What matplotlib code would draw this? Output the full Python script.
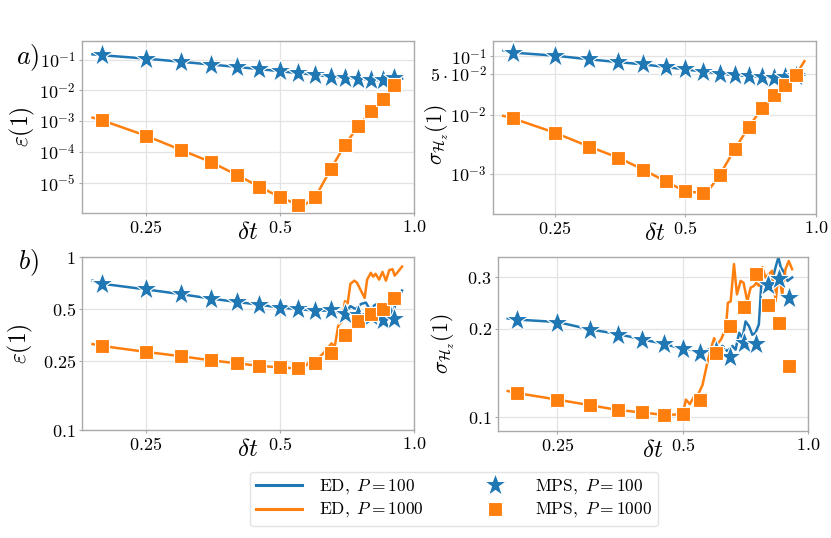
#!/usr/bin/env python3
"""
Error and energy-variance vs time step: ED curves against MPS points, two cases.
"""

import matplotlib
matplotlib.use("Agg")
import matplotlib.pyplot as plt
from matplotlib.lines import Line2D
from matplotlib.ticker import FixedLocator, FixedFormatter, NullLocator

# ---- data ----
dt_mps = [0.2, 0.25, 0.3, 0.35, 0.4, 0.45, 0.5, 0.55, 0.6, 0.65, 0.7, 0.75, 0.8, 0.85, 0.9]

# a) epsilon
mps_eps_a_100 = [0.138, 0.108, 0.084, 0.069, 0.058, 0.048, 0.042, 0.036, 0.032, 0.028, 0.026, 0.024, 0.022, 0.021, 0.025]
mps_eps_a_1000 = [1.05e-3, 3.4e-4, 1.16e-4, 4.7e-5, 1.8e-5, 7.4e-6, 3.4e-6, 1.9e-6, 3.3e-6, 2.7e-5,
                  1.7e-4, 6.9e-4, 2.1e-3, 5.1e-3, 1.46e-2]
dt_ed_a = [0.19, 0.2, 0.25, 0.3, 0.35, 0.4, 0.45, 0.5, 0.55, 0.565, 0.6, 0.65, 0.7, 0.75, 0.8, 0.85, 0.9, 0.94]
ed_eps_a_100 = [0.148, 0.138, 0.108, 0.085, 0.069, 0.058, 0.049, 0.042, 0.036, 0.035, 0.032, 0.028,
                0.026, 0.024, 0.022, 0.021, 0.022, 0.024]
ed_eps_a_1000 = [1.3e-3, 1.05e-3, 3.4e-4, 1.16e-4, 4.7e-5, 1.8e-5, 7.4e-6, 3.4e-6, 1.9e-6, 1.8e-6, 3.3e-6,
                 2.7e-5, 1.7e-4, 6.9e-4, 2.1e-3, 5.1e-3, 1.46e-2, 3.1e-2]

# a) sigma
mps_sig_a_100 = [0.114, 0.103, 0.089, 0.080, 0.073, 0.066, 0.060, 0.055, 0.051, 0.048, 0.046, 0.044, 0.043, 0.045, 0.046]
mps_sig_a_1000 = [8.8e-3, 5.0e-3, 2.9e-3, 1.88e-3, 1.17e-3, 7.4e-4, 5.0e-4, 4.7e-4, 9.6e-4, 2.65e-3,
                  6.3e-3, 0.013, 0.022, 0.033, 0.049]
ed_sig_a_100 = [0.127, 0.116, 0.103, 0.089, 0.080, 0.073, 0.066, 0.060, 0.055, 0.054, 0.051, 0.048,
                0.046, 0.045, 0.044, 0.045, 0.046, 0.049]
ed_sig_a_1000 = [9.7e-3, 8.8e-3, 5.0e-3, 2.9e-3, 1.88e-3, 1.17e-3, 7.4e-4, 5.0e-4, 4.7e-4, 5.2e-4, 9.6e-4,
                 2.65e-3, 6.3e-3, 0.013, 0.022, 0.033, 0.049, 0.083]

# b) epsilon
mps_eps_b_100 = [0.70, 0.65, 0.61, 0.575, 0.55, 0.53, 0.51, 0.50, 0.49, 0.495, 0.47, 0.46, 0.455, 0.43, 0.44]
mps_eps_b_1000 = [0.306, 0.283, 0.267, 0.253, 0.243, 0.235, 0.23, 0.227, 0.243, 0.277, 0.355, 0.424, 0.469, 0.501, 0.576]
dt_ed_eps_b_100 = [0.19, 0.2, 0.25, 0.3, 0.35, 0.4, 0.45, 0.5, 0.55, 0.6, 0.65, 0.7, 0.72, 0.74, 0.76, 0.78,
                   0.795, 0.81, 0.83, 0.85, 0.865, 0.88, 0.895, 0.91, 0.93, 0.94]
ed_eps_b_100 = [0.73, 0.70, 0.65, 0.61, 0.575, 0.55, 0.53, 0.51, 0.50, 0.49, 0.49, 0.47, 0.52, 0.50, 0.535,
                0.545, 0.50, 0.52, 0.54, 0.52, 0.50, 0.53, 0.46, 0.54, 0.60, 0.64]
dt_ed_eps_b_1000 = [0.19, 0.2, 0.25, 0.3, 0.35, 0.4, 0.45, 0.5, 0.55, 0.574, 0.589, 0.599, 0.615, 0.636,
                    0.653, 0.664, 0.676, 0.688, 0.70, 0.71, 0.72, 0.735, 0.745, 0.76, 0.775, 0.785, 0.80,
                    0.81, 0.82, 0.835, 0.85, 0.865, 0.88, 0.895, 0.905, 0.92, 0.94]
ed_eps_b_1000 = [0.314, 0.306, 0.283, 0.267, 0.253, 0.243, 0.235, 0.23, 0.227, 0.237, 0.259, 0.247, 0.265,
                 0.29, 0.317, 0.303, 0.40, 0.424, 0.555, 0.54, 0.70, 0.73, 0.71, 0.64, 0.58, 0.74, 0.81,
                 0.77, 0.80, 0.74, 0.82, 0.73, 0.84, 0.85, 0.78, 0.82, 0.88]

# b) sigma
mps_sig_b_100 = [0.215, 0.21, 0.198, 0.191, 0.184, 0.178, 0.171, 0.166, 0.168, 0.160, 0.179, 0.178, 0.282, 0.295, 0.254]
mps_sig_b_1000 = [0.121, 0.115, 0.110, 0.106, 0.104, 0.102, 0.103, 0.115, 0.165, 0.204, 0.238, 0.307, 0.241, 0.21, 0.15]
dt_ed_sig_b_100 = [0.19, 0.2, 0.25, 0.3, 0.35, 0.4, 0.45, 0.5, 0.519, 0.547, 0.579, 0.601, 0.623, 0.640,
                   0.658, 0.670, 0.683, 0.696, 0.708, 0.722, 0.735, 0.748, 0.762, 0.772, 0.782, 0.796,
                   0.82, 0.836, 0.849, 0.86, 0.876, 0.893, 0.916]
ed_sig_b_100 = [0.217, 0.215, 0.211, 0.199, 0.192, 0.184, 0.178, 0.171, 0.170, 0.167, 0.168, 0.168, 0.175,
                0.168, 0.175, 0.170, 0.194, 0.186, 0.212, 0.204, 0.191, 0.194, 0.207, 0.280, 0.284, 0.280,
                0.291, 0.324, 0.35, 0.324, 0.311, 0.291, 0.299]
dt_ed_sig_b_1000 = [0.19, 0.2, 0.25, 0.3, 0.35, 0.4, 0.45, 0.5, 0.509, 0.52, 0.533, 0.545, 0.558, 0.574,
                    0.585, 0.595, 0.605, 0.618, 0.635, 0.642, 0.652, 0.664, 0.675, 0.689, 0.70, 0.715,
                    0.728, 0.742, 0.752, 0.762, 0.777, 0.79, 0.806, 0.82, 0.836, 0.85, 0.867, 0.883,
                    0.899, 0.916]
ed_sig_b_1000 = [0.123, 0.121, 0.115, 0.110, 0.106, 0.104, 0.102, 0.1025, 0.115, 0.111, 0.118, 0.12, 0.129,
                 0.155, 0.172, 0.186, 0.177, 0.184, 0.201, 0.245, 0.248, 0.332, 0.262, 0.291, 0.287, 0.248,
                 0.276, 0.28, 0.287, 0.28, 0.324, 0.299, 0.307, 0.315, 0.248, 0.311, 0.262, 0.319, 0.34,
                 0.319]

x_ticks = [0.25, 0.5, 1.0]
x_ticklabels = [r"$0.25$", r"$0.5$", r"$1.0$"]

BLUE = "#1f77b4"
ORANGE = "#ff7f0e"
STAR_MS = 17
SQ_MS = 10

plt.rcParams["font.family"] = "serif"
plt.rcParams["font.serif"] = ["cmr10", "DejaVu Serif"]
plt.rcParams["mathtext.fontset"] = "cm"
plt.rcParams["axes.unicode_minus"] = False


def style_axis(ax, ylim, yticks, yticklabels):
    ax.set_xscale("log", base=2)
    ax.set_yscale("log")
    ax.set_xlim(0.18, 1.0)
    ax.set_ylim(*ylim)
    ax.xaxis.set_major_locator(FixedLocator(x_ticks))
    ax.xaxis.set_major_formatter(FixedFormatter(x_ticklabels))
    ax.xaxis.set_minor_locator(NullLocator())
    ax.yaxis.set_major_locator(FixedLocator(yticks))
    ax.yaxis.set_major_formatter(FixedFormatter(yticklabels))
    ax.yaxis.set_minor_locator(NullLocator())
    ax.grid(True, color="#e3e3e3", linewidth=0.9)
    ax.set_axisbelow(True)
    for s in ax.spines.values():
        s.set_color("#aaaaaa")
        s.set_linewidth(1.0)
    ax.tick_params(axis="both", length=2.5, color="#aaaaaa", labelsize=13, pad=2)


def draw(ax, ed100, ed1000, mps100, mps1000):
    ax.plot(ed100[0], ed100[1], color=BLUE, lw=1.8, zorder=2)
    ax.plot(ed1000[0], ed1000[1], color=ORANGE, lw=1.8, zorder=2)
    ax.plot(dt_mps, mps100, ls="none", marker="*", ms=STAR_MS, color=BLUE, mec="white", mew=0.8, zorder=3)
    ax.plot(dt_mps, mps1000, ls="none", marker="s", ms=SQ_MS, color=ORANGE, mec="white", mew=0.8, zorder=3)


fig = plt.figure(figsize=(8.31, 5.38), dpi=100)
ax_tl = fig.add_axes([0.0987, 0.604, 0.3995, 0.3197])
ax_tr = fig.add_axes([0.5933, 0.6022, 0.3887, 0.3216])
ax_bl = fig.add_axes([0.0987, 0.2007, 0.3995, 0.3216])
ax_br = fig.add_axes([0.5993, 0.199, 0.373, 0.3234])

draw(ax_tl, (dt_ed_a, ed_eps_a_100), (dt_ed_a, ed_eps_a_1000), mps_eps_a_100, mps_eps_a_1000)
style_axis(ax_tl, (1.03e-6, 0.40), [1e-1, 1e-2, 1e-3, 1e-4, 1e-5],
           [r"$10^{-1}$", r"$10^{-2}$", r"$10^{-3}$", r"$10^{-4}$", r"$10^{-5}$"])

draw(ax_tr, (dt_ed_a, ed_sig_a_100), (dt_ed_a, ed_sig_a_1000), mps_sig_a_100, mps_sig_a_1000)
style_axis(ax_tr, (2.06e-4, 0.183), [1e-1, 5e-2, 1e-2, 1e-3],
           [r"$10^{-1}$", r"$5\cdot10^{-2}$", r"$10^{-2}$", r"$10^{-3}$"])

draw(ax_bl, (dt_ed_eps_b_100, ed_eps_b_100), (dt_ed_eps_b_1000, ed_eps_b_1000), mps_eps_b_100, mps_eps_b_1000)
style_axis(ax_bl, (0.1, 1.0), [1.0, 0.5, 0.25, 0.1], [r"$1$", r"$0.5$", r"$0.25$", r"$0.1$"])

draw(ax_br, (dt_ed_sig_b_100, ed_sig_b_100), (dt_ed_sig_b_1000, ed_sig_b_1000), mps_sig_b_100, mps_sig_b_1000)
style_axis(ax_br, (0.09, 0.351), [0.3, 0.2, 0.1], [r"$0.3$", r"$0.2$", r"$0.1$"])

eps_label = r"$\varepsilon(1)$"
sig_label = r"$\sigma_{\mathcal{H}_z}(1)$"
for ax, ylab, fs, xc, yc in [(ax_tl, eps_label, 17, -0.136, 0.5), (ax_tr, sig_label, 15.5, -0.13, 0.46),
                             (ax_bl, eps_label, 17, -0.142, 0.5), (ax_br, sig_label, 15.5, -0.133, 0.5)]:
    ax.set_ylabel(ylab, fontsize=fs)
    ax.yaxis.set_label_coords(xc, yc)
    ax.set_xlabel(r"$\delta t$", fontsize=18, va="center")
    ax.xaxis.set_label_coords(0.5, -0.115)

fig.text(28 / 831, 1 - 58 / 538, r"$a)$", fontsize=19, ha="center", va="center")
fig.text(28 / 831, 1 - 263 / 538, r"$b)$", fontsize=19, ha="center", va="center")

handles = [
    Line2D([], [], color=BLUE, lw=2.2),
    Line2D([], [], color=ORANGE, lw=2.2),
    Line2D([], [], ls="none", marker="*", ms=STAR_MS, color=BLUE, mec="white", mew=0.8),
    Line2D([], [], ls="none", marker="s", ms=SQ_MS, color=ORANGE, mec="white", mew=0.8),
]
labels = [r"$\mathrm{ED},\ P = 100$", r"$\mathrm{ED},\ P = 1000$",
          r"$\mathrm{MPS},\ P = 100$", r"$\mathrm{MPS},\ P = 1000$"]
fig.legend(handles, labels, ncol=2, loc="center", bbox_to_anchor=(454 / 831, 1 - 499 / 538),
           fontsize=12.5, frameon=True, edgecolor="#dddddd", columnspacing=2.8, handlelength=2.6,
           labelspacing=0.25, borderpad=0.35, handletextpad=1.0)

fig.savefig("out.png", dpi=100)
plt.close(fig)
